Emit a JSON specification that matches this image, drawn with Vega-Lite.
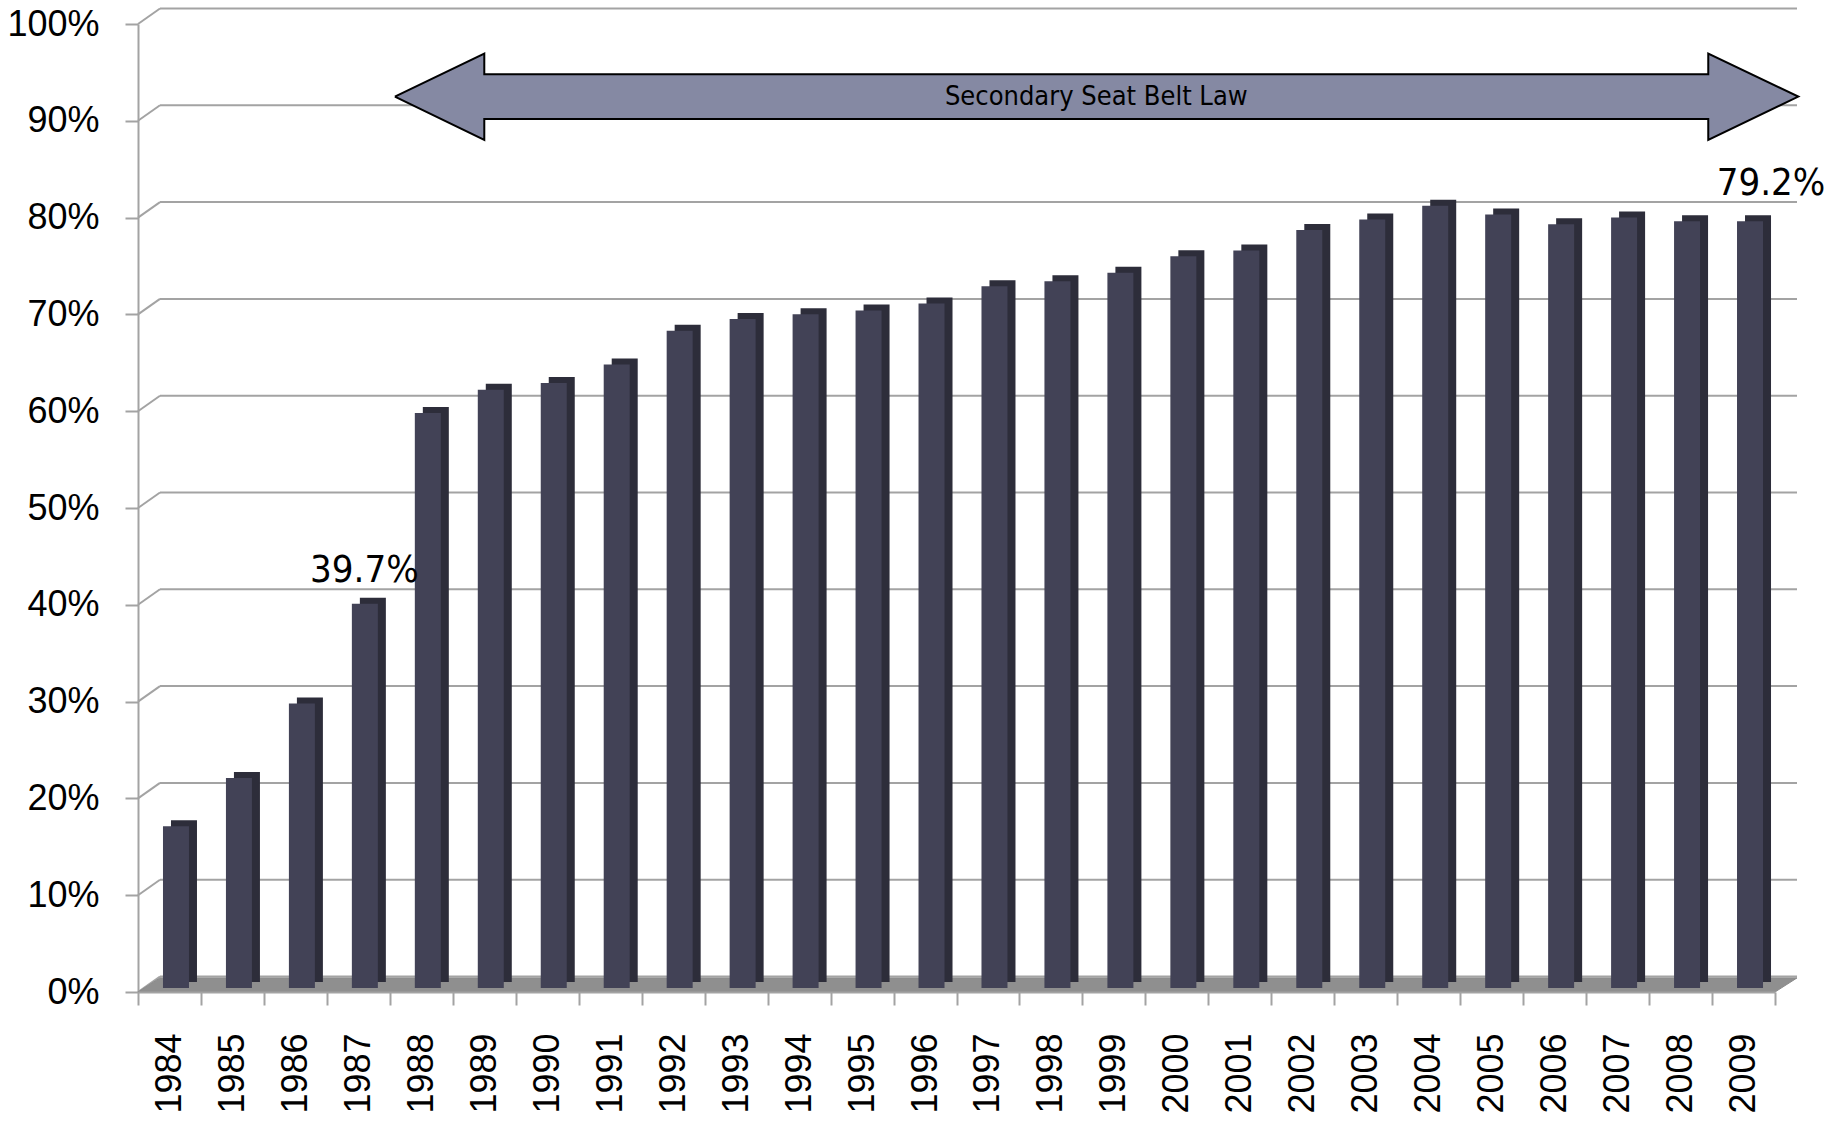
{
  "$schema": "https://vega.github.io/schema/vega-lite/v6.json",
  "width": 1637,
  "height": 968,
  "autosize": {"type": "none"},
  "padding": {"left": 138, "top": 24, "right": 67, "bottom": 130},
  "background": "white",
  "config": {"view": {"stroke": null}},
  "datasets": {
    "belt": [
      {"year": "1984", "rate": 16.7},
      {"year": "1985", "rate": 21.7},
      {"year": "1986", "rate": 29.4},
      {"year": "1987", "rate": 39.7, "label": "39.7%"},
      {"year": "1988", "rate": 59.4},
      {"year": "1989", "rate": 61.8},
      {"year": "1990", "rate": 62.5},
      {"year": "1991", "rate": 64.4},
      {"year": "1992", "rate": 67.9},
      {"year": "1993", "rate": 69.1},
      {"year": "1994", "rate": 69.6},
      {"year": "1995", "rate": 70.0},
      {"year": "1996", "rate": 70.7},
      {"year": "1997", "rate": 72.5},
      {"year": "1998", "rate": 73.0},
      {"year": "1999", "rate": 73.9},
      {"year": "2000", "rate": 75.6},
      {"year": "2001", "rate": 76.2},
      {"year": "2002", "rate": 78.3},
      {"year": "2003", "rate": 79.4},
      {"year": "2004", "rate": 80.8},
      {"year": "2005", "rate": 79.9},
      {"year": "2006", "rate": 78.9},
      {"year": "2007", "rate": 79.6},
      {"year": "2008", "rate": 79.2},
      {"year": "2009", "rate": 79.2, "label": "79.2%"}
    ],
    "grid": [
      {"v": 0}, {"v": 10}, {"v": 20}, {"v": 30}, {"v": 40}, {"v": 50},
      {"v": 60}, {"v": 70}, {"v": 80}, {"v": 90}, {"v": 100}
    ],
    "floor": [
      {"x": 0, "y": 0, "i": 1},
      {"x": 0.349, "y": 1.45, "i": 2},
      {"x": 26.349, "y": 1.45, "i": 3},
      {"x": 26, "y": 0, "i": 4},
      {"x": 0, "y": 0, "i": 5}
    ],
    "arrow": [
      {"x": 4.08, "y": 92.5, "i": 1},
      {"x": 5.5, "y": 96.95, "i": 2},
      {"x": 5.5, "y": 94.8, "i": 3},
      {"x": 24.94, "y": 94.8, "i": 4},
      {"x": 24.94, "y": 96.95, "i": 5},
      {"x": 26.37, "y": 92.5, "i": 6},
      {"x": 24.94, "y": 88.02, "i": 7},
      {"x": 24.94, "y": 90.19, "i": 8},
      {"x": 5.5, "y": 90.19, "i": 9},
      {"x": 5.5, "y": 88.02, "i": 10},
      {"x": 4.08, "y": 92.5, "i": 11}
    ],
    "note": [
      {"x": 15.22, "y": 92.5, "text": "Secondary Seat Belt Law"}
    ]
  },
  "layer": [
    {
      "layer": [
        {
          "data": {"name": "grid"},
          "mark": {"type": "rule", "color": "#a3a3a3", "strokeWidth": 2, "xOffset": 22, "x2Offset": 22, "yOffset": -15.5},
          "encoding": {
            "x": {"datum": 0, "type": "quantitative", "scale": {"domain": [0, 26], "nice": false, "zero": false}, "axis": null},
            "x2": {"datum": 26},
            "y": {
              "field": "v", "type": "quantitative", "scale": {"domain": [0, 100], "nice": false},
              "axis": {
                "title": null, "grid": false,
                "values": [0, 10, 20, 30, 40, 50, 60, 70, 80, 90, 100],
                "labelExpr": "datum.value + '%'",
                "labelFont": "Liberation Sans", "labelFontSize": 36, "labelColor": "black",
                "labelPadding": 26, "tickSize": 13, "tickColor": "#a3a3a3", "tickWidth": 2,
                "domainColor": "#a3a3a3", "domainWidth": 2
              }
            }
          }
        },
        {
          "data": {"name": "grid"},
          "mark": {"type": "rule", "color": "#a3a3a3", "strokeWidth": 2, "x2Offset": 22, "y2Offset": -15.5},
          "encoding": {
            "x": {"datum": 0, "type": "quantitative"},
            "x2": {"datum": 0},
            "y": {"field": "v", "type": "quantitative"},
            "y2": {"field": "v"}
          }
        },
        {
          "data": {"name": "floor"},
          "mark": {"type": "line", "fill": "#8f8f8f", "stroke": "#8a8a8a", "strokeWidth": 1},
          "encoding": {
            "x": {"field": "x", "type": "quantitative"},
            "y": {"field": "y", "type": "quantitative"},
            "order": {"field": "i", "type": "quantitative"}
          }
        }
      ]
    },
    {
      "data": {"name": "belt"},
      "layer": [
        {
          "mark": {"type": "bar", "width": 26, "color": "#2d2d3a", "xOffset": 14.5, "x2Offset": 14.5, "yOffset": -10, "y2Offset": -10},
          "encoding": {
            "x": {
              "field": "year", "type": "ordinal", "scale": {"paddingInner": 0, "paddingOuter": 0},
              "axis": {
                "orient": "bottom",
                "title": null, "labelAngle": -90, "tickBand": "extent",
                "labelFont": "Liberation Sans", "labelFontSize": 36, "labelColor": "black",
                "labelPadding": 28, "tickSize": 13, "tickColor": "#a3a3a3", "tickWidth": 2,
                "domainColor": "#a3a3a3", "domainWidth": 2, "zindex": 1
              }
            },
            "y": {"field": "rate", "type": "quantitative"},
            "y2": {"datum": 0}
          }
        },
        {
          "mark": {"type": "bar", "width": 26, "color": "#424256", "xOffset": 6.5, "x2Offset": 6.5, "yOffset": -4, "y2Offset": -4},
          "encoding": {
            "x": {"field": "year", "type": "ordinal"},
            "y": {"field": "rate", "type": "quantitative"},
            "y2": {"datum": 0}
          }
        },
        {
          "transform": [{"filter": "datum.year == '1987'"}],
          "mark": {"type": "text", "font": "DejaVu Sans Condensed", "fontSize": 38, "color": "black", "baseline": "alphabetic", "align": "center", "dx": 6, "dy": -26},
          "encoding": {
            "x": {"field": "year", "type": "ordinal"},
            "y": {"field": "rate", "type": "quantitative"},
            "text": {"field": "label"}
          }
        },
        {
          "transform": [{"filter": "datum.year == '2009'"}],
          "mark": {"type": "text", "font": "DejaVu Sans Condensed", "fontSize": 38, "color": "black", "baseline": "alphabetic", "align": "center", "dx": 27.5, "dy": -30},
          "encoding": {
            "x": {"field": "year", "type": "ordinal"},
            "y": {"field": "rate", "type": "quantitative"},
            "text": {"field": "label"}
          }
        }
      ]
    },
    {
      "layer": [
        {
          "data": {"name": "arrow"},
          "mark": {"type": "line", "fill": "#8589a3", "stroke": "black", "strokeWidth": 2, "strokeJoin": "miter"},
          "encoding": {
            "x": {"field": "x", "type": "quantitative", "scale": {"domain": [0, 26], "nice": false, "zero": false}, "axis": null},
            "y": {"field": "y", "type": "quantitative"},
            "order": {"field": "i", "type": "quantitative"}
          }
        },
        {
          "data": {"name": "note"},
          "mark": {"type": "text", "font": "DejaVu Sans Condensed", "fontSize": 27, "color": "black", "align": "center", "baseline": "middle"},
          "encoding": {
            "x": {"field": "x", "type": "quantitative"},
            "y": {"field": "y", "type": "quantitative"},
            "text": {"field": "text"}
          }
        }
      ]
    }
  ],
  "resolve": {"scale": {"x": "independent"}}
}
